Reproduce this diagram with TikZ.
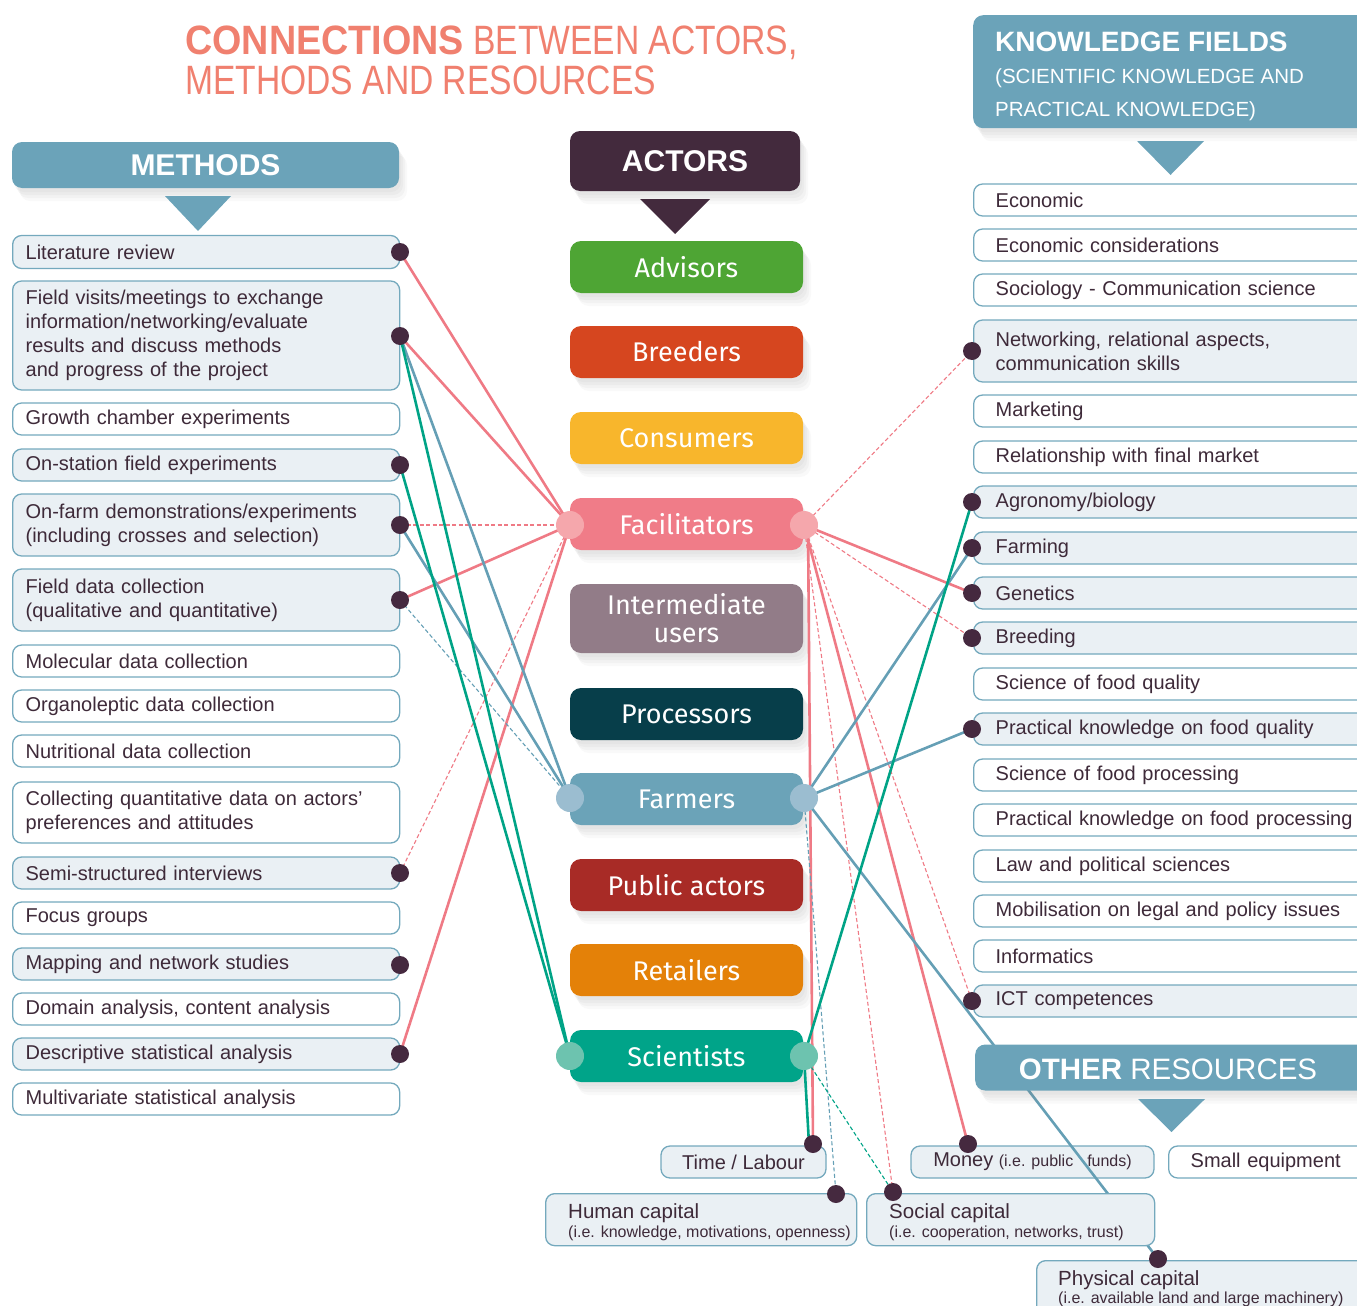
\documentclass[tikz,border=0pt]{standalone}
\usepackage{fontspec}
\setmainfont{Liberation Sans}
\newfontfamily\actfont{Fira Sans}
\newfontfamily\titlefont{Liberation Sans}[FakeStretch=0.82]
\newfontfamily\titlebold{Liberation Sans}[FakeStretch=0.92]
\usetikzlibrary{shadows}
\definecolor{hdrblue}{HTML}{6BA3B9}
\definecolor{bordc}{HTML}{74A9BD}
\definecolor{boxfill}{HTML}{EAF0F4}
\definecolor{txtc}{HTML}{3E2A39}
\definecolor{dotc}{HTML}{45293F}
\definecolor{salmon}{HTML}{F0806F}
\definecolor{plum}{HTML}{432A3D}
\definecolor{pinkl}{HTML}{EF7A85}
\definecolor{bluel}{HTML}{659FB5}
\definecolor{greenl}{HTML}{00A386}
\definecolor{advc}{HTML}{4EA534}
\definecolor{brec}{HTML}{D6461F}
\definecolor{conc}{HTML}{F8B62C}
\definecolor{facc}{HTML}{F07C88}
\definecolor{intc}{HTML}{927C88}
\definecolor{proc}{HTML}{073E4A}
\definecolor{farc}{HTML}{6BA3B8}
\definecolor{pubc}{HTML}{A82B26}
\definecolor{retc}{HTML}{E48108}
\definecolor{scic}{HTML}{00A489}
\definecolor{facp}{HTML}{F5A7AC}
\definecolor{farp}{HTML}{9BBDD0}
\definecolor{scip}{HTML}{6DC3AF}
\pgfdeclarelayer{boxes}
\pgfdeclarelayer{lines}
\pgfdeclarelayer{cover}
\pgfsetlayers{boxes,lines,cover,main}
\newcommand\mtxt{\fontsize{20}{24}\selectfont}
\begin{document}
\begin{tikzpicture}[x=1pt,y=-1pt,
  softshadow/.style={
    drop shadow={opacity=0.06, shadow xshift=2pt, shadow yshift=-4pt},
    drop shadow={opacity=0.06, shadow xshift=4pt, shadow yshift=-7pt},
    drop shadow={opacity=0.06, shadow xshift=6pt, shadow yshift=-10pt},
    drop shadow={opacity=0.05, shadow xshift=8pt, shadow yshift=-13pt}},
  mbox/.style={draw=bordc, line width=1.3pt, rounded corners=9pt, fill=white, anchor=west,
    text width=361pt, inner xsep=13pt, inner ysep=0pt, minimum height=32pt, align=left,
    font=\mtxt, text=txtc},
  mboxf/.style={mbox, fill=boxfill},
  kbox/.style={mbox, text width=380pt, inner xsep=22pt},
  kboxf/.style={kbox, fill=boxfill},
  rbox/.style={draw=bordc, line width=1.3pt, rounded corners=9pt, fill=boxfill, inner sep=0pt,
    font=\fontsize{20}{24}\selectfont, text=txtc},
  actorbox/.style={rounded corners=11pt, minimum width=233pt, minimum height=52pt, inner sep=0pt,
    text=white, align=center, font=\actfont\fontsize{27}{28}\selectfont, softshadow},
  hdrbox/.style={fill=hdrblue, rounded corners=10pt, inner sep=0pt, text=white, softshadow},
  dotn/.style={circle, fill=dotc, inner sep=0pt, minimum size=18pt},
  portc/.style={circle, inner sep=0pt, minimum size=28pt},
  ttext/.style={anchor=base west, inner sep=0pt, text=txtc},
  pline/.style={draw=pinkl, line width=2.6pt},
  pdash/.style={draw=pinkl, line width=1.1pt, dash pattern=on 4pt off 2.5pt},
  bline/.style={draw=bluel, line width=2.6pt},
  bdash/.style={draw=bluel, line width=1.1pt, dash pattern=on 4pt off 2.5pt},
  gline/.style={draw=greenl, line width=2.6pt},
  gdash/.style={draw=greenl, line width=1.1pt, dash pattern=on 4pt off 2.5pt}
]
\useasboundingbox (0,0) rectangle (1357,1306);
\clip (0,0) rectangle (1357,1306);

% ---------- title ----------
\node[anchor=base west, inner sep=0pt, text=salmon, font=\titlefont\fontsize{41}{41}\selectfont] (title1) at (185,55)
  {{\titlebold\bfseries CONNECTIONS} BETWEEN ACTORS,};
\node[anchor=base west, inner sep=0pt, text=salmon, font=\titlefont\fontsize{41}{41}\selectfont] (title2) at (185,94)
  {METHODS AND RESOURCES};

\begin{pgfonlayer}{boxes}
% ---------- headers ----------
\node[hdrbox, minimum width=387pt, minimum height=46pt, font=\bfseries\fontsize{30}{30}\selectfont] (hmeth) at (205.5,165) {METHODS};
\fill[hdrblue] (165,196) -- (231,196) -- (198,231) -- cycle;
\node[hdrbox, fill=plum, minimum width=230pt, minimum height=60pt, font=\bfseries\fontsize{30}{30}\selectfont] (hact) at (685,161) {ACTORS};
\fill[plum] (640,199) -- (710,199) -- (675,234) -- cycle;
\node[hdrbox, anchor=north west, minimum width=420pt, minimum height=113pt] (hknow) at (973,15) {};
\node[anchor=base west, inner sep=0pt, text=white, font=\bfseries\fontsize{28}{28}\selectfont] (hk1) at (995,52) {KNOWLEDGE FIELDS};
\node[anchor=base west, inner sep=0pt, text=white, font=\fontsize{20.5}{20}\selectfont] (hk2) at (995,84) {(SCIENTIFIC KNOWLEDGE AND};
\node[anchor=base west, inner sep=0pt, text=white, font=\fontsize{20.5}{20}\selectfont] (hk3) at (995,116) {PRACTICAL KNOWLEDGE)};
\fill[hdrblue] (1137,141) -- (1204,141) -- (1170.5,175) -- cycle;

% ---------- methods ----------
\node[mboxf, minimum height=33pt] (m1) at (12,252) {Literature review};
\node[mboxf, minimum height=109pt] (m2) at (12,335.5) {Field visits/meetings to exchange\\information/networking/evaluate\\results and discuss methods\\and progress of the project};
\node[mbox] (m3) at (12,419) {Growth chamber experiments};
\node[mboxf] (m4) at (12,465) {On-station field experiments};
\node[mboxf, minimum height=62pt] (m5) at (12,525) {On-farm demonstrations/experiments\\(including crosses and selection)};
\node[mboxf, minimum height=62pt] (m6) at (12,600) {Field data collection\\(qualitative and quantitative)};
\node[mbox] (m7) at (12,661) {Molecular data collection};
\node[mbox] (m8) at (12,706) {Organoleptic data collection};
\node[mbox] (m9) at (12,751) {Nutritional data collection};
\node[mbox, minimum height=61pt] (m10) at (12,812.5) {Collecting quantitative data on actors’\\preferences and attitudes};
\node[mboxf] (m11) at (12,873) {Semi-structured interviews};
\node[mbox] (m12) at (12,918) {Focus groups};
\node[mboxf] (m13) at (12,964) {Mapping and network studies};
\node[mbox] (m14) at (12,1009) {Domain analysis, content analysis};
\node[mboxf] (m15) at (12,1054) {Descriptive statistical analysis};
\node[mbox] (m16) at (12,1099) {Multivariate statistical analysis};

% ---------- knowledge fields ----------
\node[kbox] (k1) at (973,200) {Economic};
\node[kbox] (k2) at (973,245) {Economic considerations};
\node[kbox] (k3) at (973,290) {Sociology - Communication science};
\node[kboxf, minimum height=62pt] (k4) at (973,351) {Networking, relational aspects,\\communication skills};
\node[kbox] (k5) at (973,411) {Marketing};
\node[kbox] (k6) at (973,457) {Relationship with final market};
\node[kboxf] (k7) at (973,502) {Agronomy/biology};
\node[kboxf] (k8) at (973,548) {Farming};
\node[kboxf] (k9) at (973,593) {Genetics};
\node[kboxf] (k10) at (973,638) {Breeding};
\node[kbox] (k11) at (973,684) {Science of food quality};
\node[kboxf] (k12) at (973,729) {Practical knowledge on food quality};
\node[kbox] (k13) at (973,775) {Science of food processing};
\node[kbox] (k14) at (973,820) {Practical knowledge on food processing};
\node[kbox] (k15) at (973,866) {Law and political sciences};
\node[kbox] (k16) at (973,911) {Mobilisation on legal and policy issues};
\node[kbox] (k17) at (973,956) {Informatics};
\node[kboxf] (k18) at (973,1001) {ICT competences};

% ---------- actors ----------
\node[actorbox, fill=advc] (adv) at (686.5,267) {Advisors};
\node[actorbox, fill=brec] (bre) at (686.5,352) {Breeders};
\node[actorbox, fill=conc] (con) at (686.5,438) {Consumers};
\node[actorbox, fill=facc] (fac) at (686.5,524) {Facilitators};
\node[actorbox, fill=intc, minimum height=69pt] (int) at (686.5,618.5) {Intermediate\\users};
\node[actorbox, fill=proc] (pro) at (686.5,714) {Processors};
\node[actorbox, fill=farc] (far) at (686.5,799) {Farmers};
\node[actorbox, fill=pubc] (pub) at (686.5,885) {Public actors};
\node[actorbox, fill=retc] (ret) at (686.5,970) {Retailers};
\node[actorbox, fill=scic] (sci) at (686.5,1056) {Scientists};

% ---------- resources (under lines) ----------
\node[rbox, minimum width=165pt, minimum height=32pt] (rtime) at (743.5,1162) {Time / Labour};
\node[rbox, minimum width=243pt, minimum height=32pt] (rmoney) at (1032.5,1162)
  {Money {\fontsize{16}{16}\selectfont(i.e. public\hspace{14pt}funds)}};
\node[rbox, fill=white, anchor=west, minimum width=230pt, minimum height=32pt, text width=186pt, inner xsep=22pt, align=left] (rsmall) at (1168,1162) {Small equipment};
\node[rbox, anchor=north west, minimum width=311pt, minimum height=52pt] (rhum) at (545,1193) {};
\node[ttext, font=\fontsize{20.5}{20}\selectfont] (rhum1) at (568,1218) {Human capital};
\node[ttext, font=\fontsize{16}{16}\selectfont] (rhum2) at (568,1237) {(i.e. knowledge, motivations, openness)};
\end{pgfonlayer}

\begin{pgfonlayer}{cover}
\node[hdrbox, anchor=west, minimum width=420pt, minimum height=46pt] (hoth) at (975,1067.5) {};
\node[anchor=base, inner sep=0pt, text=white, font=\fontsize{29.5}{30}\selectfont] (hotht) at (1168,1079) {\textbf{OTHER} RESOURCES};
\fill[hdrblue] (1138,1099) -- (1205,1099) -- (1171.5,1132) -- cycle;
\node[rbox, anchor=north west, minimum width=288pt, minimum height=52pt] (rsoc) at (866,1193) {};
\node[ttext, font=\fontsize{20.5}{20}\selectfont] (rsoc1) at (889,1218) {Social capital};
\node[ttext, font=\fontsize{16}{16}\selectfont] (rsoc2) at (889,1237) {(i.e. cooperation, networks, trust)};
\node[rbox, anchor=north west, minimum width=340pt, minimum height=60pt] (rphys) at (1036,1260) {};
\node[ttext, font=\fontsize{20.5}{20}\selectfont] (rphys1) at (1058,1285) {Physical capital};
\node[ttext, font=\fontsize{16}{16}\selectfont] (rphys2) at (1058,1303) {(i.e. available land and large machinery)};
\end{pgfonlayer}

% ---------- ports and dots ----------
\node[portc, fill=facp] (facl) at (570,525) {};
\node[portc, fill=facp] (facr) at (804,525) {};
\node[portc, fill=farp] (farl) at (570,798) {};
\node[portc, fill=farp] (farr) at (804,798) {};
\node[portc, fill=scip] (scil) at (570,1056) {};
\node[portc, fill=scip] (scir) at (804,1056) {};

\node[dotn] (dlit) at (400,252) {};
\node[dotn] (dfv) at (400,336) {};
\node[dotn] (dos) at (400,465) {};
\node[dotn] (dof) at (400,525) {};
\node[dotn] (dfd) at (400,600) {};
\node[dotn] (dssi) at (400,873) {};
\node[dotn] (dmap) at (400,965) {};
\node[dotn] (ddesc) at (400,1054) {};

\node[dotn] (dnet) at (972,351) {};
\node[dotn] (dagro) at (972,502) {};
\node[dotn] (dfarm) at (972,548) {};
\node[dotn] (dgen) at (972,593) {};
\node[dotn] (dbre) at (972,638) {};
\node[dotn] (dpkfq) at (972,729) {};
\node[dotn] (dict) at (972,1001) {};

\node[dotn] (dtime) at (813,1144) {};
\node[dotn] (dmoney) at (968,1144) {};
\node[dotn] (dhum) at (836,1194) {};
\node[dotn] (dsoc) at (893,1192) {};
\node[dotn] (dphys) at (1158,1259) {};

% ---------- connectors ----------
\begin{pgfonlayer}{lines}
\draw[pline] (dlit.center) -- (facl.center);
\draw[pline] (dfv.center) -- (facl.center);
\draw[pdash] (dof.center) -- (facl.center);
\draw[pline] (dfd.center) -- (facl.center);
\draw[pdash] (dssi.center) -- (facl.center);
\draw[pline] (ddesc.center) -- (facl.center);
\draw[bline] (dfv.center) -- (farl.center);
\draw[bline] (dof.center) -- (farl.center);
\draw[bdash] (dfd.center) -- (farl.center);
\draw[gline] (dfv.center) -- (scil.center);
\draw[gline] (dos.center) -- (scil.center);

\draw[pdash] (facr.center) -- (dnet.center);
\draw[pline] (facr.center) -- (dgen.center);
\draw[pdash] (facr.center) -- (dbre.center);
\draw[pline] ([xshift=4pt]facr.center) -- (dtime.center);
\draw[pdash] (facr.center) -- (dsoc.center);
\draw[pdash] (facr.center) -- (dict.center);
\draw[pline] (facr.center) -- (dmoney.center);

\draw[bline] (farr.center) -- (dfarm.center);
\draw[bline] (farr.center) -- (dpkfq.center);
\draw[bline] (farr.center) -- (dphys.center);
\draw[bdash] (farr.center) -- (dhum.center);

\draw[gline] (scir.center) -- (dagro.center);
\draw[gline] (scir.center) -- ([xshift=-4pt]dtime.center);
\draw[gdash] (scir.center) -- (dsoc.center);
\end{pgfonlayer}
\end{tikzpicture}
\end{document}
